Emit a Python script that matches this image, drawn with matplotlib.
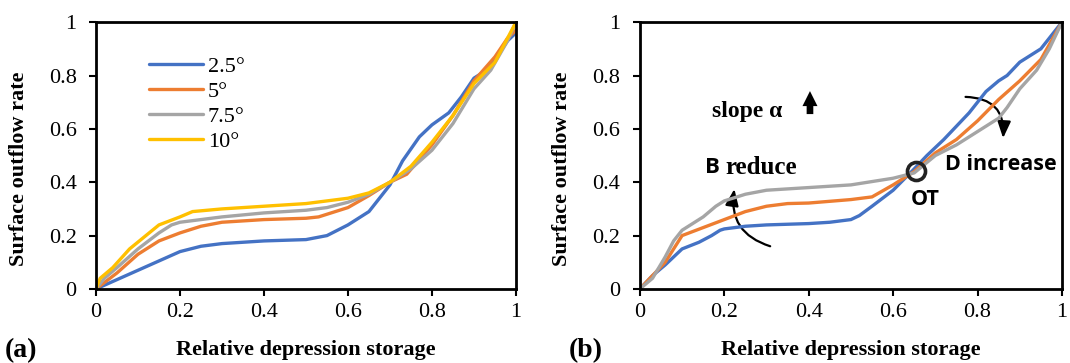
import matplotlib
matplotlib.use("Agg")
import matplotlib.pyplot as plt
from matplotlib.patches import FancyArrowPatch
from matplotlib.ticker import FuncFormatter

# ---- panel (a): outflow curves for different slopes ----
slope_labels = ["2.5°", "5°", "7.5°", "10°"]
colors = ["#4472C4", "#ED7D31", "#A5A5A5", "#FFC000"]

a_x_25 = [0, 0.05, 0.1, 0.15, 0.2, 0.25, 0.3, 0.4, 0.5, 0.55, 0.6, 0.65, 0.7, 0.73, 0.77, 0.8, 0.84, 0.87, 0.9, 0.92, 0.95, 0.98, 1]
a_y_25 = [0, 0.035, 0.07, 0.105, 0.14, 0.16, 0.17, 0.18, 0.185, 0.2, 0.24, 0.29, 0.39, 0.48, 0.57, 0.615, 0.66, 0.72, 0.79, 0.81, 0.86, 0.93, 0.96]

a_x_5 = [0, 0.05, 0.1, 0.15, 0.2, 0.25, 0.3, 0.4, 0.5, 0.53, 0.6, 0.65, 0.7, 0.74, 0.8, 0.85, 0.9, 0.95, 0.98, 1]
a_y_5 = [0, 0.06, 0.13, 0.18, 0.21, 0.235, 0.25, 0.26, 0.265, 0.27, 0.305, 0.35, 0.40, 0.43, 0.54, 0.65, 0.78, 0.87, 0.94, 0.97]

a_x_75 = [0, 0.02, 0.05, 0.1, 0.15, 0.18, 0.2, 0.3, 0.4, 0.5, 0.55, 0.6, 0.65, 0.7, 0.75, 0.8, 0.85, 0.9, 0.94, 0.98, 1]
a_y_75 = [0, 0.04, 0.08, 0.15, 0.21, 0.24, 0.25, 0.27, 0.285, 0.295, 0.305, 0.325, 0.355, 0.40, 0.45, 0.52, 0.62, 0.75, 0.82, 0.93, 1.0]

a_x_10 = [0, 0.01, 0.04, 0.08, 0.15, 0.2, 0.23, 0.3, 0.4, 0.5, 0.6, 0.65, 0.7, 0.75, 0.8, 0.85, 0.9, 0.95, 0.98, 1]
a_y_10 = [0, 0.04, 0.08, 0.15, 0.24, 0.27, 0.29, 0.30, 0.31, 0.32, 0.34, 0.36, 0.40, 0.46, 0.55, 0.65, 0.77, 0.85, 0.94, 1.0]

# ---- panel (b): outflow curves with changing B / D ----
b_x_blue = [0, 0.03, 0.06, 0.1, 0.14, 0.17, 0.19, 0.2, 0.25, 0.3, 0.4, 0.45, 0.5, 0.52, 0.55, 0.6, 0.65, 0.68, 0.7, 0.72, 0.75, 0.78, 0.8, 0.82, 0.85, 0.87, 0.9, 0.93, 0.95, 0.98, 1]
b_y_blue = [0, 0.05, 0.09, 0.15, 0.175, 0.2, 0.22, 0.225, 0.235, 0.24, 0.245, 0.25, 0.26, 0.275, 0.31, 0.37, 0.45, 0.5, 0.53, 0.56, 0.61, 0.66, 0.70, 0.74, 0.78, 0.80, 0.85, 0.88, 0.9, 0.96, 1.0]

b_x_orange = [0, 0.03, 0.06, 0.1, 0.15, 0.2, 0.25, 0.3, 0.35, 0.4, 0.5, 0.55, 0.6, 0.65, 0.7, 0.75, 0.8, 0.85, 0.9, 0.95, 1]
b_y_orange = [0, 0.05, 0.1, 0.2, 0.23, 0.26, 0.29, 0.31, 0.32, 0.322, 0.335, 0.345, 0.39, 0.44, 0.51, 0.56, 0.63, 0.71, 0.78, 0.86, 1.0]

b_x_gray = [0, 0.03, 0.06, 0.08, 0.1, 0.15, 0.18, 0.2, 0.25, 0.3, 0.4, 0.5, 0.6, 0.65, 0.7, 0.75, 0.8, 0.85, 0.87, 0.9, 0.94, 0.97, 1]
b_y_gray = [0, 0.04, 0.12, 0.18, 0.22, 0.27, 0.31, 0.33, 0.355, 0.37, 0.38, 0.39, 0.415, 0.435, 0.5, 0.54, 0.59, 0.64, 0.68, 0.75, 0.82, 0.9, 1.0]

ticks = [0, 0.2, 0.4, 0.6, 0.8, 1.0]

serif = "Liberation Serif"
sans = "Open Sans"

fig = plt.figure(figsize=(10.70, 3.63), dpi=100)
ax_a = fig.add_axes([0.0897, 0.204, 0.3925, 0.735])
ax_b = fig.add_axes([0.598, 0.204, 0.3945, 0.735])

fmt = FuncFormatter(lambda v, p: "0" if v == 0 else ("1" if v == 1 else f"{v:.1f}"))

def style(ax):
    ax.set_xlim(0, 1)
    ax.set_ylim(0, 1)
    ax.set_xticks(ticks)
    ax.set_yticks(ticks)
    ax.xaxis.set_major_formatter(fmt)
    ax.yaxis.set_major_formatter(fmt)
    for s in ax.spines.values():
        s.set_linewidth(2.0)
        s.set_color("black")
    ax.tick_params(direction="out", length=5, width=1.5, labelsize=16)
    ax.tick_params(axis="x", pad=5)
    ax.tick_params(axis="y", pad=9)
    for lab in ax.get_xticklabels() + ax.get_yticklabels():
        lab.set_fontfamily(serif)
    ax.set_xlabel("Relative depression storage", fontfamily=serif, fontweight="bold", fontsize=16)
    ax.set_ylabel("Surface outflow rate", fontfamily=serif, fontweight="bold", fontsize=16)
    ax.xaxis.set_label_coords(0.5, -0.19)
    ax.yaxis.set_label_coords(-0.16, 0.45)

lw = 2.4
series_a = [(a_x_25, a_y_25), (a_x_5, a_y_5), (a_x_75, a_y_75), (a_x_10, a_y_10)]
for (xs, ys), c, lab in zip(series_a, colors, slope_labels):
    ax_a.plot(xs, ys, color=c, lw=lw, label=lab, solid_capstyle="round", solid_joinstyle="round")
style(ax_a)
ax_a.legend(loc="upper left", bbox_to_anchor=(0.105, 0.905), frameon=False,
            prop={"family": serif, "size": 16}, handlelength=2.45, handletextpad=0.2,
            labelspacing=0.2, borderaxespad=0)

series_b = [(b_x_blue, b_y_blue), (b_x_orange, b_y_orange), (b_x_gray, b_y_gray)]
for (xs, ys), c in zip(series_b, colors[:3]):
    ax_b.plot(xs, ys, color=c, lw=lw, solid_capstyle="round", solid_joinstyle="round")
style(ax_b)

# annotations on panel (b)
ax_b.text(0.17, 0.665, "slope α", fontfamily=serif, fontweight="bold", fontsize=17, va="center", ha="left")
ax_b.add_patch(FancyArrowPatch((0.403, 0.645), (0.403, 0.752),
                               arrowstyle="simple,head_length=0.9,head_width=0.9,tail_width=0.4",
                               color="black", mutation_scale=12, lw=0))
ax_b.text(0.155, 0.455, "B", fontfamily=sans, fontweight="bold", fontsize=16, va="center", ha="left")
ax_b.text(0.203, 0.455, "reduce", fontfamily=serif, fontweight="bold", fontsize=18, va="center", ha="left")
ax_b.add_patch(FancyArrowPatch((0.315, 0.157), (0.225, 0.385), connectionstyle="arc3,rad=-0.45",
                               arrowstyle="-|>,head_length=10,head_width=4", color="black", lw=1.6,
                               mutation_scale=1))
ax_b.plot([0.654], [0.442], marker="o", ms=13, mfc="none", mec="#222222", mew=2.6)
ax_b.text(0.675, 0.335, "OT", fontfamily=sans, fontweight="bold", fontsize=15.5, va="center", ha="center")
ax_b.text(0.722, 0.466, "D increase", fontfamily=sans, fontweight="bold", fontsize=15.5, va="center", ha="left")
ax_b.add_patch(FancyArrowPatch((0.765, 0.72), (0.86, 0.555), connectionstyle="arc3,rad=-0.55",
                               arrowstyle="-|>,head_length=10,head_width=4", color="black", lw=1.6,
                               mutation_scale=1))

fig.text(0.004, 0.035, "(a)", fontfamily=serif, fontweight="bold", fontsize=20, va="center")
fig.text(0.532, 0.035, "(b)", fontfamily=serif, fontweight="bold", fontsize=20, va="center")

fig.savefig("out.png", dpi=100)
